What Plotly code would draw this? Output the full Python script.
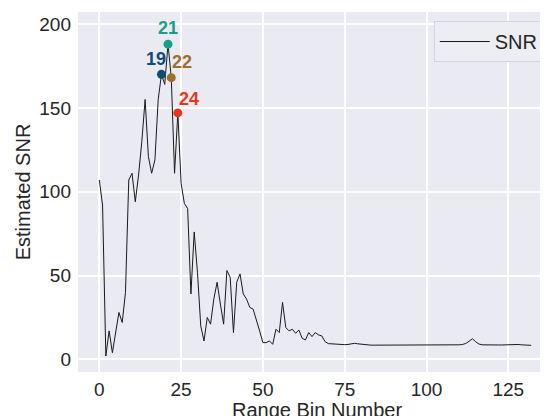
import plotly.graph_objects as go

# Estimated SNR per range bin
snr = [
    107, 92, 2, 17, 4, 16, 28, 22, 40, 107,
    111, 94, 110, 130, 155, 121, 111, 119, 155, 170,
    164, 188, 168, 111, 147, 105, 93, 90, 39, 76,
    52, 20, 11, 25, 21, 36, 46, 33, 21, 53,
    49, 16, 46, 51, 39, 36, 31, 30, 24, 17,
    10, 10, 11, 9, 18, 16, 34, 19, 17, 18,
    15.6, 17.5, 12.6, 11.6, 16, 13.6, 16, 14.6, 14, 10.6,
    9.4, 9.2, 9.0, 8.9, 8.8, 8.8, 8.9, 9.3, 9.6, 9.3,
    9.0, 8.8, 8.6, 8.5, 8.5, 8.5, 8.6, 8.7, 8.8, 8.7,
    8.6, 8.6, 8.5, 8.5, 8.5, 8.6, 8.6, 8.7, 8.7, 8.8,
    8.8, 8.6, 8.5, 8.4, 8.4, 8.5, 8.5, 8.6, 8.6, 8.6,
    8.7, 8.9, 9.5, 10.8, 12.3, 10.6, 9.2, 8.7, 8.6, 8.6,
    8.7, 8.7, 8.6, 8.6, 8.7, 8.5, 8.8, 9.0, 8.9, 8.7,
    8.6, 8.5, 8.4,
]
bins = list(range(len(snr)))

# Highlighted peak bins
peak_bins = [19, 21, 22, 24]
peak_colors = ["#0f4c75", "#16a085", "#9c6f2d", "#e3391d"]
label_xshift = [-5, 0, 11, 11]
label_yshift = [15, 16, 16, 14]

x_ticks = [0, 25, 50, 75, 100, 125]
y_ticks = [0, 50, 100, 150, 200]
x_title = "Range Bin Number"
y_title = "Estimated SNR"

FONT = "Liberation Sans, Arial, sans-serif"
TXT = "#262626"

fig = go.Figure()
fig.add_trace(go.Scatter(
    x=bins, y=snr, mode="lines", name="SNR",
    line=dict(color="#1a1a1a", width=1),
))

for b, c, dx, dy in zip(peak_bins, peak_colors, label_xshift, label_yshift):
    fig.add_trace(go.Scatter(
        x=[b], y=[snr[b]], mode="markers", showlegend=False,
        marker=dict(color=c, size=9),
    ))
    fig.add_annotation(
        x=b, y=snr[b], text=f"<b>{b}</b>", showarrow=False,
        xshift=dx, yshift=dy, xanchor="center", yanchor="middle",
        font=dict(family=FONT, size=18, color=c),
    )

# x-axis title placed as paper annotation (partly cut by the bottom edge, as in the reference)
fig.add_annotation(
    xref="paper", yref="paper", x=0.5075, y=-25 / 360,
    xanchor="center", yanchor="top", showarrow=False,
    text=x_title, font=dict(family=FONT, size=20, color=TXT),
)

fig.update_layout(
    width=540, height=408, autosize=False,
    margin=dict(l=70, r=0, t=4, b=44, pad=0, autoexpand=False),
    paper_bgcolor="white", plot_bgcolor="#EAEAF2",
    font=dict(family=FONT, size=19, color=TXT),
    showlegend=True,
    legend=dict(
        x=0.991, y=0.975, xanchor="right", yanchor="top",
        bgcolor="#ededf4", bordercolor="#d4d4da", borderwidth=1,
        itemwidth=50,
        font=dict(family=FONT, size=20, color=TXT),
    ),
)
fig.update_xaxes(
    range=[-6.51, 137.13], tickvals=x_ticks, automargin=False,
    showgrid=True, gridcolor="white", gridwidth=1.5, zeroline=False,
    showline=False, ticks="", ticklabelstandoff=4,
    tickfont=dict(family=FONT, size=19, color=TXT),
)
fig.update_yaxes(
    range=[-7.51, 207.16], tickvals=y_ticks, automargin=False,
    showgrid=True, gridcolor="white", gridwidth=1.5, zeroline=False,
    showline=False, ticks="", ticklabelstandoff=6,
    tickfont=dict(family=FONT, size=19, color=TXT),
    title=dict(text=y_title, font=dict(family=FONT, size=20, color=TXT), standoff=3),
)

fig.write_html("out.html")
